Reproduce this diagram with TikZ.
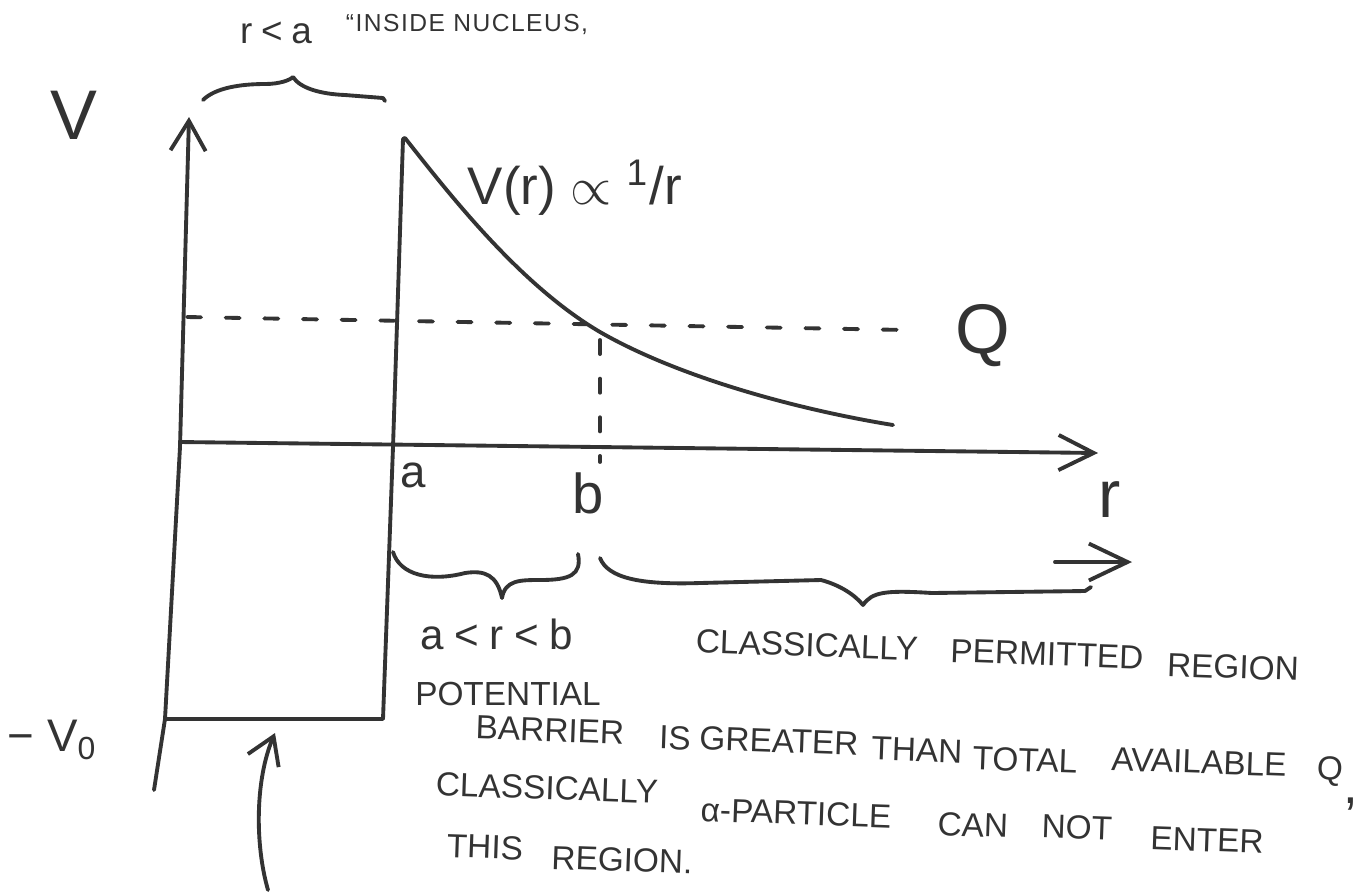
\documentclass[tikz,border=0pt]{standalone}
\usepackage{fontspec}
\setmainfont{Liberation Sans}
\usetikzlibrary{arrows.meta}
\definecolor{ink}{HTML}{333333}
\newcommand{\fitw}[2]{\resizebox{#1pt}{!}{#2}}
\begin{document}
\begin{tikzpicture}[x=0.02cm,y=-0.02cm,
  line/.style={draw=ink,line width=2.2pt,line cap=round,line join=round},
  dashline/.style={line,dash pattern=on 8pt off 14pt},
  lbl/.style={text=ink,inner sep=0pt},
  word/.style={lbl,font=\fontsize{19}{19}\selectfont,rotate=-2}]
\useasboundingbox (0,0) rectangle (1372,894);

% coordinates
\coordinate (vbot) at (154,790);
\coordinate (vtop) at (189,117);
\coordinate (h0) at (180,442);
\coordinate (h1) at (1098,453);
\coordinate (w0) at (165,719);
\coordinate (w1) at (383,719);
\coordinate (wa) at (393,447);
\coordinate (wt) at (403,139);
\coordinate (c0) at (405,138);
\coordinate (cb) at (600,332);
\coordinate (c1) at (893,425);
\coordinate (q0) at (187,317);
\coordinate (q1) at (907,330);
\coordinate (b0) at (600,340);
\coordinate (b1) at (600,462);
\coordinate (ar0) at (1055,562);
\coordinate (ar1) at (1132,562);
\coordinate (up0) at (268,890);
\coordinate (up1) at (275,733);

% axes
\draw[line,-{Straight Barb[length=17pt,width=20pt]}] (vbot) -- (w0) -- (180,447) -- (vtop);
\draw[line,-{Straight Barb[length=20pt,width=20pt]}] (h0) -- (h1);

% well and barrier wall
\draw[line] (w0) -- (w1) -- (wa) -- (wt) -- (c0);

% Coulomb curve
\draw[line] (c0) .. controls (450,195) and (520,285) .. (cb)
  .. controls (680,378) and (800,410) .. (c1);

% dashed lines
\draw[dashline] (q0) -- (q1);
\draw[dashline] (b0) -- (b1);

% braces
\draw[line] (203,100) .. controls (215,88) and (240,84) .. (265,84)
  .. controls (280,84) and (290,80) .. (293,77)
  .. controls (300,88) and (320,94) .. (345,95) -- (383,98) -- (385,101);
\draw[line] (393,552) .. controls (400,575) and (430,582) .. (465,573)
  .. controls (485,570) and (497,575) .. (502,598)
  .. controls (505,580) and (520,580) .. (540,580)
  .. controls (570,580) and (582,575) .. (578,554);
\draw[line] (600,558) .. controls (608,578) and (640,585) .. (700,583) -- (821,580)
  .. controls (840,585) and (855,595) .. (863,605)
  .. controls (872,592) and (885,590) .. (932,593) -- (1085,591) -- (1091,587);

% arrows
\draw[line,-{Straight Barb[length=22pt,width=21pt]}] (ar0) -- (ar1);
\draw[line,-{Straight Barb[length=15pt,width=19pt]}] (up0) .. controls (255,845) and (255,780) .. (up1);

% single labels
\node[lbl,font=\fontsize{40}{40}\selectfont] (V) at (74,115) {V};
\node[lbl,font=\fontsize{40}{40}\selectfont] (Q) at (983,336) {Q};
\node[lbl,font=\fontsize{26}{26}\selectfont] (a) at (413,475) {a};
\node[lbl,font=\fontsize{32}{32}\selectfont] (b) at (588,493) {b};
\node[lbl,font=\fontsize{38}{38}\selectfont] (r) at (1110,500) {r};
\node[lbl,font=\fontsize{26}{26}\selectfont] (V0) at (52,740) {− V\textsubscript{0}};
\node[lbl] (vr) at (575,188) {\fitw{122}{V(r) $\propto$ \textsuperscript{1}/r}};

% top text
\node[lbl,font=\fontsize{21}{21}\selectfont] (rla) at (276,33) {r\kern5pt<\kern5pt a};
\node[lbl,font=\fontsize{14}{14}\selectfont\addfontfeature{LetterSpace=6}] (ins) at (467,24) {“INSIDE NUCLEUS,};

% lower text
\node[lbl,font=\fontsize{24}{24}\selectfont] (arb) at (497,634) {a\kern6pt<\kern6pt r\kern6pt<\kern6pt b};
\node[word] (cp1) at (807,645) {CLASSICALLY};
\node[word] (cp2) at (1047,654) {PERMITTED};
\node[word] (cp3) at (1233,667) {REGION};
\node[word,rotate=2] (pot) at (508,694) {POTENTIAL};
\node[word] (br1) at (550,730) {BARRIER};
\node[word] (br2) at (675,738) {IS};
\node[word] (br3) at (779,741) {GREATER};
\node[word] (br4) at (917,750) {THAN};
\node[word] (br5) at (1025,760) {TOTAL};
\node[word] (br6) at (1199,762) {AVAILABLE};
\node[word] (br7) at (1330,771) {Q};
\node[lbl,font=\fontsize{30}{30}\selectfont] (br8) at (1351,804) {,};
\node[word] (cl1) at (547,788) {CLASSICALLY};
\node[word] (cl2) at (796,813) {α-PARTICLE};
\node[word] (cl3) at (973,825) {CAN};
\node[word] (cl4) at (1077,827) {NOT};
\node[word] (cl5) at (1207,840) {ENTER};
\node[word] (th1) at (485,847) {THIS};
\node[word] (th2) at (622,860) {REGION.};
\end{tikzpicture}
\end{document}
